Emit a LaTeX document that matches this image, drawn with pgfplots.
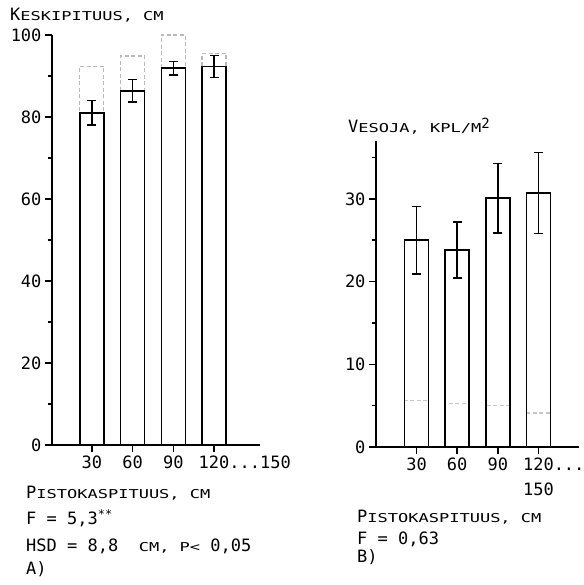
\documentclass[border=0pt]{standalone}
\usepackage{fontspec}
\setmainfont{DejaVu Sans Mono}
\usepackage{graphicx}
\usepackage{pgfplots}
\pgfplotsset{compat=1.18}
\newcommand\bigf{\fontsize{17}{25}\selectfont}
\newcommand\sm[1]{\scalebox{1}[0.72]{#1}}
\begin{document}
\begin{tikzpicture}[x=1pt,y=1pt]
\useasboundingbox (0,0) rectangle (583,585);
\pgfplotsset{
  myaxis/.style={
    scale only axis,
    axis lines*=left,
    axis line style={line width=1.6pt},
    tick align=outside, major tick length=7pt, minor tick length=4.5pt,
    tick style={line width=1.5pt, black},
    /pgf/number format/assume math mode=true,
    tick label style={font=\bigf},
    clip=false,
    bar width=24pt,
  },
  solidbar/.style={ybar, bar shift=0pt, draw=black, line width=1.6pt,
    error bars/y dir=both, error bars/y explicit,
    error bars/error bar style={line width=1.6pt},
    error bars/error mark options={rotate=90, mark size=4.5pt, line width=1.6pt}},
}
% ---------- Panel A ----------
\begin{axis}[myaxis,
  at={(52pt,140pt)}, anchor=south west,
  width=208pt, height=410pt,
  xmin=0.02, xmax=5.13, ymin=0, ymax=100,
  xtick={1,2,3,4}, xticklabels={30,60,90,{120\rlap{...150}}},
  ytick={0,20,40,60,80,100}, minor ytick={10,30,50,70,90},
]
\addplot[ybar, bar shift=0pt, draw=gray!55, dash pattern=on 4pt off 2.5pt, line width=1.2pt, fill=none]
  coordinates {(1,92.4) (2,94.9) (3,100) (4,95.5)};
\addplot[solidbar, fill=white]
  coordinates {(1,81) +- (0,3) (2,86.4) +- (0,2.7) (3,91.9) +- (0,1.6) (4,92.3) +- (0,2.7)};
\end{axis}
% ---------- Panel B ----------
\begin{axis}[myaxis,
  at={(376pt,138pt)}, anchor=south west,
  width=203pt, height=306pt,
  xmin=0, xmax=5, ymin=0, ymax=37,
  xtick={1,2,3,4}, xticklabels={30,60,90,{120\rlap{...}\\150}},
  xticklabel style={align=center},
  ytick={0,10,20,30}, minor ytick={5,15,25,35},
]
\addplot[ybar, bar shift=0pt, draw=gray!45, dash pattern=on 4pt off 2.5pt, line width=1.2pt, fill=none]
  coordinates {(1,5.6) (2,5.3) (3,5.0) (4,4.1)};
\addplot[solidbar, fill=none]
  coordinates {(1,25) +- (0,4.1) (2,23.8) +- (0,3.4) (3,30.1) +- (0,4.2) (4,30.7) +- (0,4.9)};
\end{axis}
% ---------- Texts ----------
\begin{scope}[every node/.style={anchor=base west, font=\bigf, inner sep=0pt}]
\node at (10,564) {K\sm{ESKIPITUUS, CM}};
\node at (26,86) {P\sm{ISTOKASPITUUS, CM}};
\node at (26,60) {F = 5,3\textsuperscript{**}};
\node at (26,33) {HSD = 8,8~~\sm{CM, P<} 0,05};
\node at (26,10) {A)};
\node at (348,452) {V\sm{ESOJA, KPL/M}\raisebox{4pt}{\fontsize{14}{14}\selectfont 2}};
\node at (357,62) {P\sm{ISTOKASPITUUS, CM}};
\node at (357,40) {F = 0,63};
\node at (357,22) {B)};
\end{scope}
\end{tikzpicture}
\end{document}
